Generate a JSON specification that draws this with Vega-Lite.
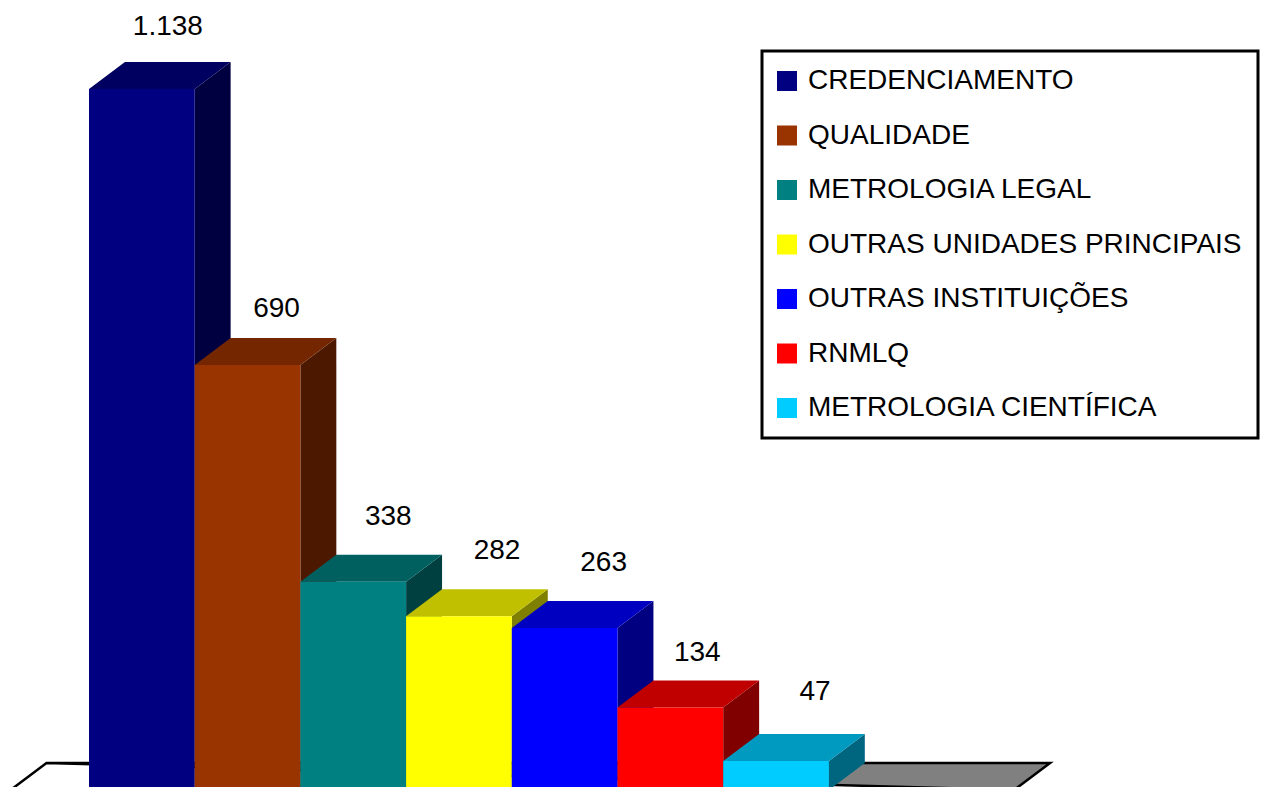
{
"$schema":"https://vega.github.io/schema/vega-lite/v6.json",
"width":1261,"height":787,"padding":0,"autosize":{"type":"none"},
"background":"white",
"datasets":{
"barras":[
{"categoria":"CREDENCIAMENTO","valor":1138,"ordem":0},
{"categoria":"QUALIDADE","valor":690,"ordem":1},
{"categoria":"METROLOGIA LEGAL","valor":338,"ordem":2},
{"categoria":"OUTRAS UNIDADES PRINCIPAIS","valor":282,"ordem":3},
{"categoria":"OUTRAS INSTITUIÇÕES","valor":263,"ordem":4},
{"categoria":"RNMLQ","valor":134,"ordem":5},
{"categoria":"METROLOGIA CIENTÍFICA","valor":47,"ordem":6}],
"piso":[{"parte":"piso"}]
},
"config":{"view":{"stroke":null},"legend":{"strokeWidth":3}},
"resolve":{"scale":{"color":"independent"}},
"layer":[
{"data":{"name":"piso"},
"transform":[{"calculate":"[0,1]","as":"t"},{"flatten":["t"]},
{"calculate":"-0.742+datum.t*0.34","as":"xa"},{"calculate":"datum.t*43.8","as":"ya"},
{"calculate":"8.752+datum.t*0.34","as":"xb"}],
"layer":[
{"mark":{"type":"rect","opacity":0},"encoding":{}}
]},
{"data":{"name":"piso"},
"transform":[{"calculate":"[-0.742,-0.402,8.752,9.092]","as":"u"},{"flatten":["u"]},
{"calculate":"datum.u<0 ? (datum.u+0.742)/0.34*43.8 : 0","as":"y_inf"},
{"calculate":"datum.u<8.752 ? (datum.u<-0.402?0:43.8) : 43.8","as":"y_sup"},
{"calculate":"datum.u==-0.742?0:(datum.u==-0.402?43.8:(datum.u==8.752?0:43.8))","as":"y_inf2"},
{"calculate":"datum.u==-0.742?0:43.8","as":"y_sup2"}],
"mark":{"type":"area","fill":"#808080","stroke":"black","strokeWidth":2.5,"clip":true},
"encoding":{
"x":{"field":"u","type":"quantitative","scale":{"domain":[-0.842,11.088]},"axis":null},
"y":{"field":"y_sup2","type":"quantitative","scale":{"domain":[4.87,1282.5]},"axis":null},
"y2":{"field":"y_inf2"}}},
{"data":{"name":"barras"},
"transform":[{"calculate":"[0,1]","as":"t"},{"flatten":["t"]},
{"calculate":"datum.ordem+1+datum.t*0.34","as":"xs"},
{"calculate":"datum.valor+datum.t*43.8","as":"ys"},
{"calculate":"datum.t*43.8","as":"ys0"}],
"mark":{"type":"area","clip":true},
"encoding":{
"x":{"field":"xs","type":"quantitative","scale":{"domain":[-0.842,11.088]},"axis":null},
"y":{"field":"ys","type":"quantitative","scale":{"domain":[4.87,1282.5]},"axis":null},
"y2":{"field":"ys0"},
"color":{"field":"categoria","type":"nominal","legend":null,
"scale":{"domain":["CREDENCIAMENTO","QUALIDADE","METROLOGIA LEGAL","OUTRAS UNIDADES PRINCIPAIS","OUTRAS INSTITUIÇÕES","RNMLQ","METROLOGIA CIENTÍFICA"],
"range":["#000040","#4C1900","#004040","#808000","#000080","#800000","#006680"]}}}},
{"data":{"name":"barras"},
"transform":[{"calculate":"[0,0.34,1,1.34]","as":"u"},{"flatten":["u"]},
{"calculate":"datum.ordem+datum.u","as":"xt"},
{"calculate":"datum.valor+(datum.u>1?43.8:0)","as":"yt0"},
{"calculate":"datum.valor+(datum.u>0?43.8:0)","as":"yt1"}],
"mark":{"type":"area","clip":true},
"encoding":{
"x":{"field":"xt","type":"quantitative","scale":{"domain":[-0.842,11.088]},"axis":null},
"y":{"field":"yt1","type":"quantitative","scale":{"domain":[4.87,1282.5]},"axis":null},
"y2":{"field":"yt0"},
"color":{"field":"categoria","type":"nominal","legend":null,
"scale":{"domain":["CREDENCIAMENTO","QUALIDADE","METROLOGIA LEGAL","OUTRAS UNIDADES PRINCIPAIS","OUTRAS INSTITUIÇÕES","RNMLQ","METROLOGIA CIENTÍFICA"],
"range":["#000060","#732600","#006060","#C0C000","#0000C0","#C00000","#0099BF"]}}}},
{"data":{"name":"barras"},
"transform":[{"calculate":"datum.ordem+1","as":"fim"},{"calculate":"0","as":"base"}],
"mark":{"type":"rect","clip":true},
"encoding":{
"x":{"field":"ordem","type":"quantitative","scale":{"domain":[-0.842,11.088]},"axis":null},
"x2":{"field":"fim"},
"y":{"field":"valor","type":"quantitative","scale":{"domain":[4.87,1282.5]},"axis":null},
"y2":{"field":"base"},
"color":{"field":"categoria","type":"nominal",
"scale":{"domain":["CREDENCIAMENTO","QUALIDADE","METROLOGIA LEGAL","OUTRAS UNIDADES PRINCIPAIS","OUTRAS INSTITUIÇÕES","RNMLQ","METROLOGIA CIENTÍFICA"],
"range":["#000080","#993300","#008080","#FFFF00","#0000FF","#FF0000","#00CCFF"]},
"legend":{"title":null,"orient":"none","legendX":762,"legendY":51,"padding":16,"fillColor":"white","strokeColor":"black",
"symbolType":"square","symbolSize":400,"symbolStrokeWidth":0,"symbolOpacity":1,"symbolOffset":-5,
"labelFont":"Liberation Sans","labelFontSize":28,"labelColor":"black","labelLimit":600,"labelOffset":7,"rowPadding":26.5}}}},
{"data":{"name":"barras"},
"transform":[
{"calculate":"datum.ordem+0.5+[0.246,0.274,0.331,0.36,0.369,0.255,0.369][datum.ordem]","as":"xr"},
{"calculate":"datum.valor+[100.6,90.9,105.5,105.5,105.5,87.7,112][datum.ordem]","as":"yr"},
{"calculate":"replace(format(datum.valor,','),',','.')","as":"rotulo"}],
"mark":{"type":"text","font":"Liberation Sans","fontSize":28,"color":"black","align":"center","baseline":"middle"},
"encoding":{
"x":{"field":"xr","type":"quantitative","scale":{"domain":[-0.842,11.088]},"axis":null},
"y":{"field":"yr","type":"quantitative","scale":{"domain":[4.87,1282.5]},"axis":null},
"text":{"field":"rotulo","type":"nominal"}}}
]
}
